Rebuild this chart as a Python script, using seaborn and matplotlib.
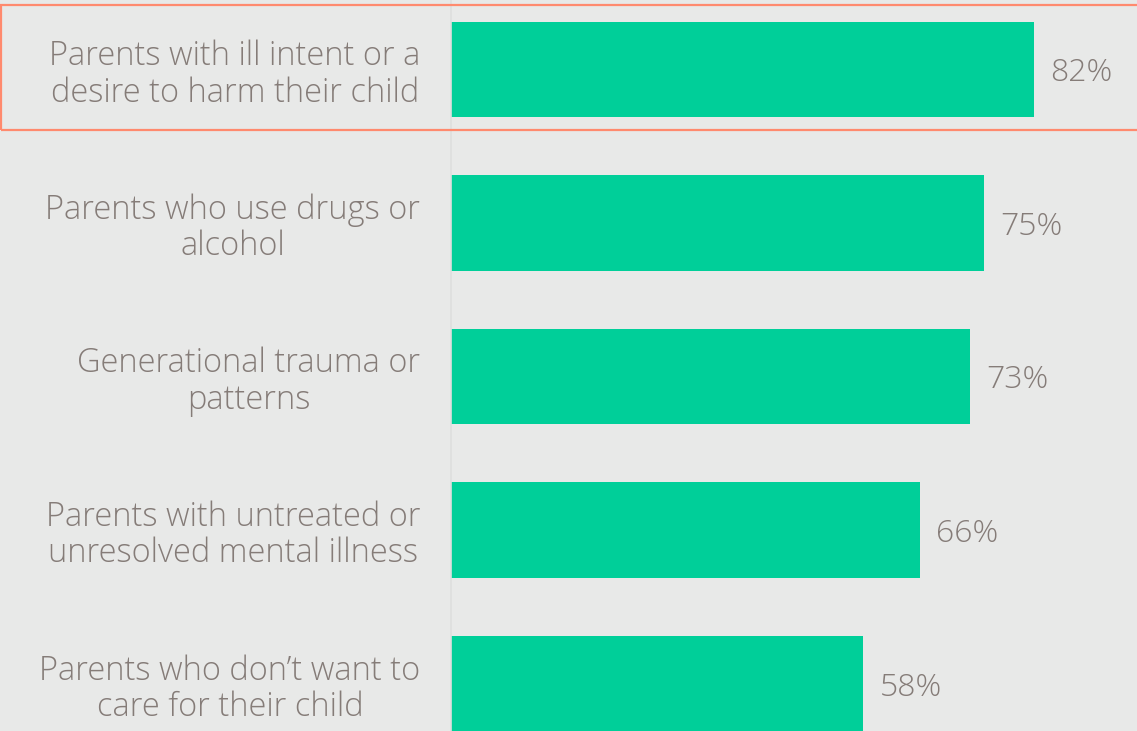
import matplotlib
matplotlib.use("Agg")
import matplotlib.pyplot as plt
import seaborn as sns
import pandas as pd
from matplotlib.patches import Rectangle

categories = [
    "Parents with ill intent or a\ndesire to harm their child",
    "Parents who use drugs or\nalcohol",
    "Generational trauma or\npatterns",
    "Parents with untreated or\nunresolved mental illness",
    "Parents who don\u2019t want to\ncare for their child",
]
values = [82, 75, 73, 66, 58]
value_labels = ["82%", "75%", "73%", "66%", "58%"]

BG = "#e8e9e8"
GREEN = "#00cf99"
TEXT = "#857c78"
ORANGE = "#ff8a6e"

sns.set_theme(style="white")
plt.rcParams["font.family"] = ["Open Sans", "DejaVu Sans"]

df = pd.DataFrame({"cat": categories, "val": values})

W, H = 1137, 731
fig = plt.figure(figsize=(W / 100, H / 100), dpi=100, facecolor=BG)
ax = fig.add_axes([451 / W, 0, (W - 451) / W, 1])
ax.set_facecolor(BG)

sns.barplot(data=df, y="cat", x="val", orient="h", color=GREEN, width=0.62,
            saturation=1, linewidth=0, ax=ax)

px = (1034 - 451) / 82.0
ax.set_xlim(0, (W - 451) / px)
pitch = 153.5
ax.set_ylim((H - 69.5) / pitch, -69.5 / pitch)

for i, (v, lab) in enumerate(zip(values, value_labels)):
    ax.text(v + 16 / px, i, lab, va="center_baseline", ha="left", fontsize=23,
            color=TEXT, fontweight="light")

ax.set_yticks(range(len(categories)))
ax.set_yticklabels(categories, fontsize=23.5, color=TEXT, fontweight="light",
                   multialignment="center", linespacing=1.1)
ax.tick_params(axis="y", length=0, pad=22)
ax.set_xticks([])
ax.set_xlabel("")
ax.set_ylabel("")
for s in ["top", "right", "bottom"]:
    ax.spines[s].set_visible(False)
ax.spines["left"].set_color("#dedfde")
ax.spines["left"].set_linewidth(1.2)

rect = Rectangle((1 / W, 1 - 130 / H), 1.2, (130 - 5) / H, transform=fig.transFigure,
                 fill=False, edgecolor=ORANGE, linewidth=1.6, clip_on=False)
fig.patches.append(rect)

fig.savefig("out.png", dpi=100, facecolor=BG)
